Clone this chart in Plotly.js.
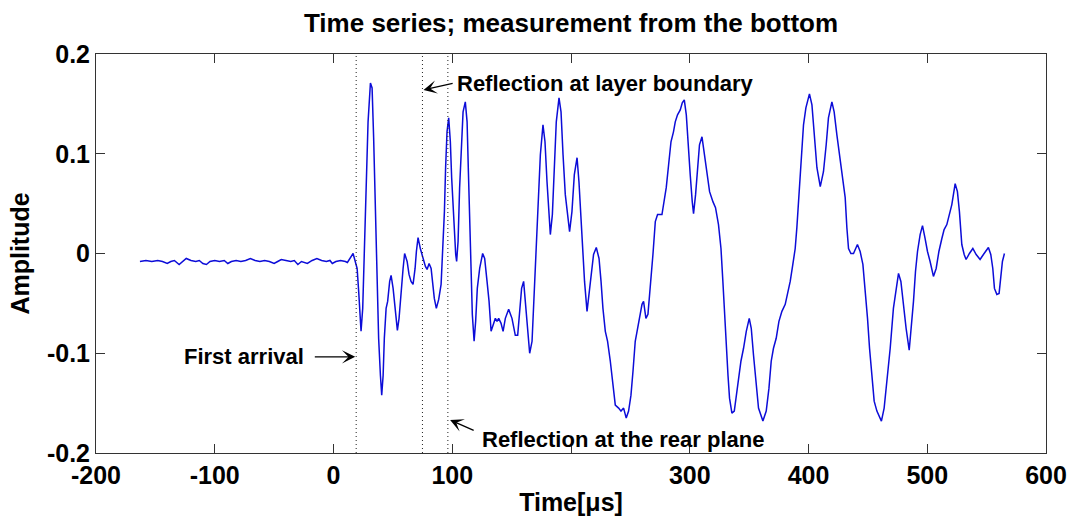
<!DOCTYPE html>
<html>
<head>
<meta charset="utf-8">
<script src="https://cdn.plot.ly/plotly-3.0.1.min.js"></script>
<style>html,body{margin:0;padding:0;background:#fff;}#chart{width:1068px;height:516px;}</style>
</head>
<body>
<div id="chart"></div>
<script>
// ---- data ----
const timeUs = [
  -163,-158,-153,-148,-144,-140,-137,-134,-130,-127,-124,-120,-116,-113,-110,-107,-104,-100,-96,-92,
  -89,-86,-82,-78,-74,-70,-66,-62,-58,-54,-50,-47,-44,-40,-36,-33,-30,-27,-22,-18,-14,-10,-6,-3,-1,2,6,10,11.7,
  16.5,19.9,21.2,23.2,24.6,26.0,27.7,29.1,31.1,32.5,33.8,34.7,35.9,37.0,38.0,39.5,40.6,41.8,42.8,44.3,
  45.6,47.3,48.5,50.2,52.1,53.8,55.2,56.9,58.6,59.9,62.0,63.6,65.3,67.0,68.7,69.8,71.2,73.1,75.4,77.4,
  78.8,80.5,82.2,83.5,84.9,86.6,88.6,90.6,91.9,93.4,94.4,95.6,97.0,98.4,99.5,101.2,102.9,103.7,104.9,106.2,
  107.7,109.1,111.0,112.5,113.6,114.6,115.8,116.9,118.4,119.7,121.1,123.1,125.6,127.3,129.3,131.0,132.7,134.3,136.3,137.7,
  139.1,141.1,142.8,144.7,147.5,150.3,153.1,155.1,156.7,158.4,160.1,161.5,163.0,165.2,167.2,168.5,169.9,171.4,172.7,174.2,
  176.4,178.1,179.8,182.6,184.3,185.9,187.6,189.9,191.6,193.3,195.2,198.8,200.8,202.8,205.1,206.7,208.4,210.1,211.4,213.5,
  215.7,217.7,219.0,221.3,223.6,225.3,226.9,228.9,230.8,233.1,235.4,237.3,240.1,242.1,244.3,246.5,248.5,250.5,252.2,254.1,
  256.1,257.7,259.8,261.1,263.1,264.8,266.8,269.0,271.0,272.9,276.6,278.6,280.2,282.2,284.2,286.3,287.8,289.7,292.0,293.7,
  295.4,297.1,298.7,300.4,302.1,303.2,304.9,306.6,308.2,310.3,312.2,314.5,316.7,319.5,321.7,324.2,326.3,327.9,329.3,330.7,
  332.2,333.5,335.5,337.5,339.1,341.1,343.1,345.3,347.6,350.1,351.8,353.7,355.7,357.9,361.6,364.4,366.7,368.6,370.5,372.8,
  375.1,377.6,380.4,382.3,384.6,386.8,388.8,390.2,391.6,393.0,394.4,395.8,397.8,400.8,402.9,404.8,407.1,409.9,412.6,414.9,
  416.8,419.7,421.6,423.9,426.1,428.1,430.1,430.9,432.3,433.7,435.7,437.9,441.2,443.5,445.8,447.7,449.7,451.4,453.4,455.3,
  457.6,461.4,463.7,466.0,468.8,471.5,473.8,475.8,477.8,480.0,482.2,484.8,486.4,488.4,490.1,491.8,494.0,496.0,498.2,500.2,
  502.4,505.2,507.5,509.8,512.3,514.2,516.5,518.7,520.7,523.5,525.4,527.1,529.1,531.1,532.7,535.5,538.4,541.2,544.5,547.3,
  551.5,553.5,555.2,556.6,558.6,560.5,562.0,563.3,565.0
];
const amplitude = [
  -0.008,-0.007,-0.008,-0.007,-0.008,-0.010,-0.008,-0.007,-0.011,-0.008,-0.005,-0.007,-0.008,-0.007,-0.010,-0.011,-0.008,-0.007,-0.008,-0.007,
  -0.010,-0.008,-0.007,-0.008,-0.007,-0.005,-0.007,-0.008,-0.007,-0.008,-0.010,-0.008,-0.006,-0.007,-0.008,-0.007,-0.011,-0.008,-0.010,-0.007,-0.005,-0.007,-0.008,-0.007,-0.010,-0.008,-0.007,-0.008,-0.009,
  0.000,-0.015,-0.038,-0.078,-0.055,0.005,0.072,0.132,0.171,0.166,0.116,0.066,-0.001,-0.051,-0.085,-0.122,-0.142,-0.122,-0.085,-0.055,
  -0.048,-0.028,-0.022,-0.035,-0.061,-0.077,-0.065,-0.035,-0.015,0.000,-0.008,-0.021,-0.028,-0.031,-0.015,0.002,0.016,0.005,-0.005,-0.013,
  -0.016,-0.010,-0.015,-0.031,-0.045,-0.055,-0.046,-0.031,-0.001,0.042,0.086,0.122,0.136,0.112,0.076,0.032,-0.001,-0.008,0.012,0.066,
  0.116,0.142,0.152,0.132,0.082,0.032,-0.018,-0.061,-0.088,-0.068,-0.035,-0.015,0.000,-0.005,-0.028,-0.048,-0.078,-0.071,-0.065,-0.068,
  -0.065,-0.070,-0.078,-0.065,-0.056,-0.065,-0.082,-0.082,-0.055,-0.035,-0.028,-0.048,-0.075,-0.100,-0.088,-0.055,-0.018,0.019,0.059,0.099,
  0.129,0.112,0.072,0.019,0.039,0.089,0.132,0.156,0.142,0.099,0.059,0.022,0.042,0.079,0.096,0.072,0.032,-0.001,-0.028,-0.058,
  -0.035,-0.015,-0.001,0.006,-0.005,-0.028,-0.055,-0.078,-0.088,-0.108,-0.135,-0.152,-0.155,-0.158,-0.155,-0.165,-0.158,-0.142,-0.118,-0.088,
  -0.075,-0.065,-0.051,-0.048,-0.065,-0.061,-0.035,-0.001,0.032,0.039,0.039,0.052,0.066,0.089,0.112,0.122,0.132,0.139,0.144,0.151,
  0.154,0.139,0.106,0.079,0.052,0.040,0.059,0.089,0.109,0.117,0.102,0.079,0.062,0.052,0.046,0.029,0.005,-0.028,-0.061,-0.095,
  -0.122,-0.145,-0.160,-0.158,-0.142,-0.122,-0.108,-0.095,-0.078,-0.065,-0.075,-0.102,-0.128,-0.155,-0.168,-0.158,-0.135,-0.108,-0.095,-0.085,
  -0.068,-0.058,-0.051,-0.041,-0.028,-0.011,0.005,0.026,0.052,0.079,0.106,0.129,0.146,0.160,0.149,0.119,0.086,0.067,0.082,0.109,
  0.136,0.152,0.142,0.119,0.099,0.086,0.066,0.056,0.026,0.005,0.000,0.000,0.009,0.002,-0.011,-0.035,-0.065,-0.095,-0.122,-0.148,
  -0.158,-0.168,-0.155,-0.128,-0.095,-0.055,-0.035,-0.020,-0.028,-0.055,-0.075,-0.097,-0.078,-0.048,-0.018,0.002,0.019,0.028,0.015,0.002,
  -0.008,-0.023,-0.015,0.002,0.015,0.024,0.029,0.039,0.049,0.070,0.062,0.042,0.009,-0.001,-0.006,0.000,0.005,-0.001,-0.006,-0.001,
  0.006,-0.001,-0.015,-0.035,-0.041,-0.040,-0.021,-0.008,0.000
];
// event markers (dotted lines) in microseconds
const eventTimes = [19.1, 74.9, 96.3];
const eventLabels = ['First arrival', 'Reflection at layer boundary', 'Reflection at the rear plane'];
// axis ticks
const xTicks = [-200, -100, 0, 100, 200, 300, 400, 500, 600];
const xTickLabels = ['-200', '-100', '0', '100', '', '300', '400', '500', '600'];
const yTicks = [-0.2, -0.1, 0, 0.1, 0.2];
const yTickLabels = ['-0.2', '-0.1', '0', '0.1', '0.2'];

// ---- chart ----
const FONT = 'Liberation Sans, Arial, Helvetica, sans-serif';
const trace = {
  x: timeUs, y: amplitude, type: 'scatter', mode: 'lines',
  line: {color: '#0c0cd8', width: 1.5}, hoverinfo: 'x+y'
};

const shapes = eventTimes.map(t => ({
  type: 'line', xref: 'x', yref: 'paper', x0: t, x1: t, y0: 0, y1: 1,
  line: {color: '#222', width: 1, dash: '1px,3px'}
}));

const annFont = {family: FONT, size: 22, color: '#000', weight: 'bold'};
const arrowStyle = {showarrow: true, arrowhead: 3, arrowsize: 1.7, arrowwidth: 1.3, arrowcolor: '#000', text: '', axref: 'x', ayref: 'y'};
const annotations = [
  // First arrival
  Object.assign({x: eventTimes[0] - 0.8, y: -0.1036, ax: -17, ay: -0.1036}, arrowStyle),
  {x: -23, y: -0.103, text: eventLabels[0], showarrow: false, xanchor: 'right', yanchor: 'middle', font: annFont},
  // Layer boundary
  Object.assign({x: eventTimes[1] + 0.9, y: 0.164, ax: 101.6, ay: 0.171}, arrowStyle),
  {x: 102.4, y: 0.170, text: eventLabels[1], showarrow: false, xanchor: 'left', yanchor: 'middle', font: annFont},
  // Rear plane
  Object.assign({x: eventTimes[2] + 1.9, y: -0.167, ax: 119.3, ay: -0.178}, arrowStyle),
  {x: 123.5, y: -0.186, text: eventLabels[2], showarrow: false, xanchor: 'left', yanchor: 'middle', font: annFont}
];

const tickFont = {family: FONT, size: 25, color: '#000', weight: 'bold'};
const axisCommon = {
  showline: true, linecolor: '#333', linewidth: 1, mirror: 'ticks',
  ticks: 'inside', ticklen: 9, tickwidth: 1, tickcolor: '#333',
  showgrid: false, zeroline: false, tickfont: tickFont, fixedrange: true
};

const layout = {
  width: 1068, height: 516,
  margin: {l: 96, r: 22, t: 54, b: 63, pad: 0},
  paper_bgcolor: '#fff', plot_bgcolor: '#fff',
  showlegend: false,
  title: {text: 'Time series; measurement from the bottom', font: {family: FONT, size: 26, color: '#000', weight: 'bold'},
          x: 0.5, xref: 'paper', xanchor: 'center', y: 0.955, yref: 'container', yanchor: 'middle'},
  xaxis: Object.assign({}, axisCommon, {
    range: [-200, 600], tickmode: 'array', tickvals: xTicks, ticktext: xTickLabels,
    title: {text: 'Time[μs]', font: {family: FONT, size: 25, color: '#000', weight: 'bold'}, standoff: 5}
  }),
  yaxis: Object.assign({}, axisCommon, {
    range: [-0.2, 0.2], tickmode: 'array', tickvals: yTicks, ticktext: yTickLabels,
    title: {text: 'Amplitude', font: {family: FONT, size: 25, color: '#000', weight: 'bold'}, standoff: 10}
  }),
  shapes: shapes,
  annotations: annotations
};

Plotly.newPlot('chart', [trace], layout, {displayModeBar: false, staticPlot: true});
</script>
</body>
</html>
